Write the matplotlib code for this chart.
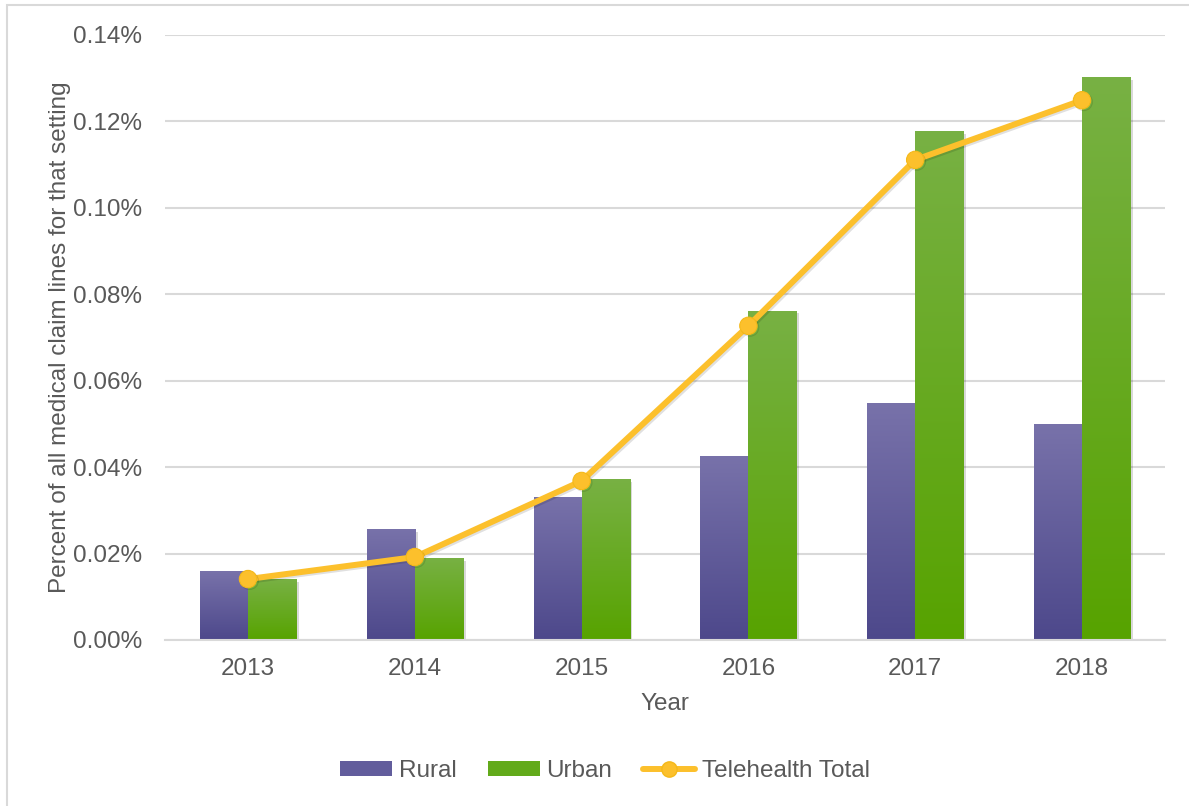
import matplotlib
matplotlib.use("Agg")
import matplotlib.pyplot as plt
import matplotlib.patheffects as pe
from matplotlib.patches import Rectangle, Patch
from matplotlib.lines import Line2D
from matplotlib.ticker import FuncFormatter, MultipleLocator
from matplotlib.colors import LinearSegmentedColormap
import numpy as np

years = ["2013", "2014", "2015", "2016", "2017", "2018"]
rural = [0.0159, 0.0257, 0.0331, 0.0426, 0.0549, 0.0500]
urban = [0.0141, 0.0190, 0.0373, 0.0762, 0.1178, 0.1303]
telehealth_total = [0.0141, 0.0192, 0.0368, 0.0727, 0.1111, 0.1249]

plt.rcParams['font.family'] = ['Liberation Sans', 'DejaVu Sans']
TXT = '#595959'
FS = 17.5

fig = plt.figure(figsize=(11.89, 8.06), dpi=100)
ax = fig.add_axes([164.6/1189, (806-640)/806, (1165.4-164.6)/1189, (640-35)/806])

# figure border (top and left visible)
fig.patches.append(Rectangle((7/1189, -0.1), 1.2, (806-5)/806 + 0.1, transform=fig.transFigure,
                             fill=False, edgecolor='#d9d9d9', linewidth=1.5, zorder=0))

x = np.arange(len(years))
w = 0.288

rural_cm = LinearSegmentedColormap.from_list('r', ['#4d488b', '#7872aa'])
urban_cm = LinearSegmentedColormap.from_list('u', ['#57a300', '#78b144'])
grad = np.linspace(0, 1, 256).reshape(-1, 1)

def gradient_bars(xs, vals, cmap, base):
    bars = ax.bar(xs, vals, width=w, color=base, zorder=2,
                  path_effects=[pe.SimplePatchShadow(offset=(2, -2), shadow_rgbFace='#000000', alpha=0.15), pe.Normal()])
    for b in bars:
        x0, y0 = b.get_x(), b.get_y()
        bw, bh = b.get_width(), b.get_height()
        im = ax.imshow(grad, extent=[x0, x0 + bw, y0, y0 + bh], origin='lower',
                       aspect='auto', cmap=cmap, zorder=2.5, interpolation='bilinear')
        im.set_clip_path(b)
    return bars

gradient_bars(x - w/2, rural, rural_cm, '#5f5a99')
gradient_bars(x + w/2, urban, urban_cm, '#64aa20')

ax.plot(x, telehealth_total, color='#fcc02c', linewidth=4.3, marker='o', markersize=12.5,
        markerfacecolor='#fcc02c', markeredgecolor='#f5b919', markeredgewidth=0.8, zorder=4,
        solid_capstyle='round',
        path_effects=[pe.SimpleLineShadow(offset=(1.2, -1.2), alpha=0.12), pe.Normal()])

ax.set_xlim(-0.5, len(years) - 0.5)
ax.set_ylim(0, 0.14)
ax.yaxis.set_major_locator(MultipleLocator(0.02))
ax.yaxis.set_major_formatter(FuncFormatter(lambda v, p: f"{v:.2f}%"))
ax.set_xticks(x)
ax.set_xticklabels(years)
ax.tick_params(axis='both', length=0, labelsize=FS, labelcolor=TXT)
ax.tick_params(axis='x', pad=13)
ax.tick_params(axis='y', pad=16)
ax.grid(axis='y', color='#d9d9d9', linewidth=1.5, zorder=0)
ax.set_axisbelow(True)
for s in ['top', 'right', 'left']:
    ax.spines[s].set_visible(False)
ax.spines['bottom'].set_color('#d9d9d9')
ax.spines['bottom'].set_linewidth(1.5)

ax.set_xlabel("Year", fontsize=FS, color=TXT, labelpad=9)
ax.set_ylabel("Percent of all medical claim lines for that setting", fontsize=FS, color=TXT, labelpad=1.5)

handles = [Patch(facecolor='#625d9c', edgecolor='none'),
           Patch(facecolor='#62aa1a', edgecolor='none'),
           Line2D([0], [0], color='#fcc02c', linewidth=4.3, marker='o', markersize=11,
                  markerfacecolor='#fcc02c', markeredgecolor='#f5b919', solid_capstyle='round')]
fig.legend(handles, ["Rural", "Urban", "Telehealth Total"], loc='center',
           bbox_to_anchor=(605/1189, (806-771)/806), ncol=3, frameon=False,
           fontsize=FS, labelcolor=TXT, handlelength=2.14, handleheight=0.53,
           columnspacing=1.3, handletextpad=0.25)

fig.savefig("out.png", dpi=100)
